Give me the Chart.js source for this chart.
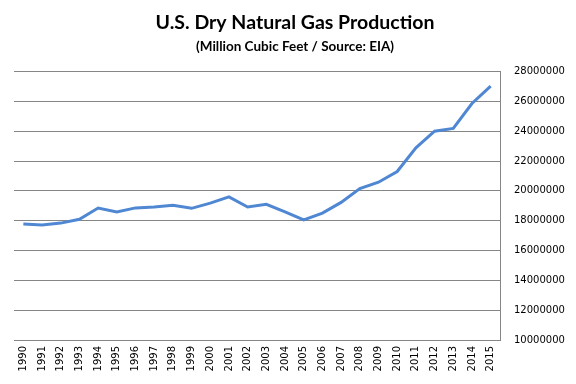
<!DOCTYPE html>
<html>
<head>
<meta charset="utf-8">
<script src="https://cdn.jsdelivr.net/npm/chart.js@4"></script>
<style>
  html, body { margin: 0; padding: 0; background: #fff; }
  #wrap { width: 576px; height: 384px; }
</style>
</head>
<body>
<div id="wrap"><canvas id="gasChart" width="576" height="384"></canvas></div>
<script>
// values
const years = ['1990', '1991', '1992', '1993', '1994', '1995', '1996', '1997', '1998', '1999',
  '2000', '2001', '2002', '2003', '2004', '2005', '2006', '2007', '2008', '2009',
  '2010', '2011', '2012', '2013', '2014', '2015'];
const production = [17780000, 17710000, 17840000, 18100000, 18850000, 18580000, 18860000, 18920000, 19030000, 18830000,
  19180000, 19600000, 18920000, 19100000, 18600000, 18050000, 18510000, 19230000, 20160000, 20580000,
  21300000, 22890000, 24000000, 24190000, 25860000, 27020000];
const yTicks = [10000000, 12000000, 14000000, 16000000, 18000000, 20000000, 22000000, 24000000, 26000000, 28000000];

document.addEventListener('DOMContentLoaded', function () {
  const ctx = document.getElementById('gasChart').getContext('2d');
  const gridGray = '#868686';

  new Chart(ctx, {
    type: 'line',
    data: {
      labels: years,
      datasets: [{
        label: 'Dry Natural Gas Production',
        data: production,
        borderColor: '#4f87d3',
        borderWidth: 3,
        pointRadius: 0,
        tension: 0,
        fill: false
      }]
    },
    options: {
      responsive: false,
      animation: false,
      layout: { padding: { left: 14, right: 0, top: 0, bottom: 0 } },
      plugins: {
        legend: { display: false },
        tooltip: { enabled: false },
        title: {
          display: true,
          text: 'U.S. Dry Natural Gas Production',
          color: '#000',
          font: { family: 'Lato', size: 19.5, weight: 'bold' },
          padding: { top: 11, bottom: 0 }
        },
        subtitle: {
          display: true,
          text: '(Million Cubic Feet / Source: EIA)',
          color: '#000',
          font: { family: 'Lato', size: 13.5, weight: 'bold' },
          padding: { top: 4, bottom: 17 }
        }
      },
      scales: {
        x: {
          offset: true,
          grid: { drawOnChartArea: false, drawTicks: false },
          border: { display: true, color: gridGray, width: 1 },
          ticks: {
            autoSkip: false,
            minRotation: 90,
            maxRotation: 90,
            padding: 6,
            color: '#000',
            font: { family: 'DejaVu Sans', size: 10 }
          },
          afterFit: function (scale) { scale.height = 44; }
        },
        y: {
          position: 'right',
          min: yTicks[0],
          max: yTicks[yTicks.length - 1],
          afterBuildTicks: function (scale) {
            scale.ticks = yTicks.map(v => ({ value: v }));
          },
          grid: { color: gridGray, drawTicks: false },
          border: { display: true, color: gridGray, width: 1 },
          ticks: {
            padding: 14,
            color: '#000',
            font: { family: 'DejaVu Sans', size: 10 },
            callback: function (value) { return String(value); }
          },
          afterFit: function (scale) { scale.width = 76; }
        }
      }
    }
  });
});
</script>
</body>
</html>
